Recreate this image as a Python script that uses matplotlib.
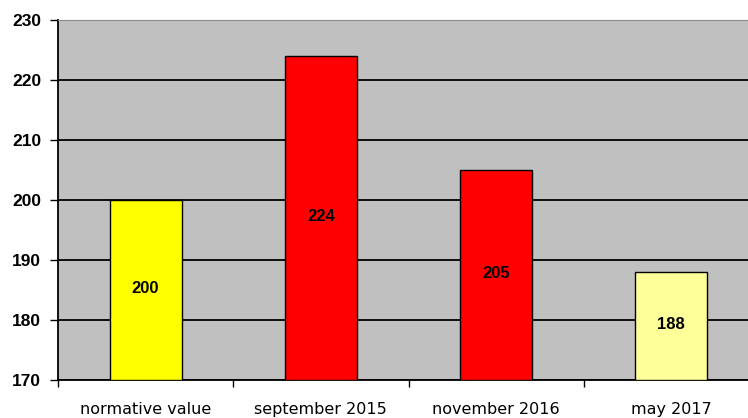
import matplotlib.pyplot as plt
import numpy as np

# Values per measurement
categories = ['normative value', 'september 2015', 'november 2016', 'may 2017']
values = [200, 224, 205, 188]
bar_colors = ['#ffff00', '#ff0000', '#ff0000', '#ffff99']

y_min, y_max = 170, 230

fig = plt.figure(figsize=(7.48, 4.18), dpi=100)
fig.patch.set_facecolor('white')
ax = fig.add_axes([58 / 748, 38 / 418, 701 / 748, 360 / 418])
ax.set_facecolor('#c0c0c0')

x = np.arange(len(categories))
bars = ax.bar(x, [v - y_min for v in values], bottom=y_min, width=0.41,
              color=bar_colors, edgecolor='black', linewidth=1.0, zorder=3)

# value labels in the middle of each bar
for xi, v in zip(x, values):
    ax.text(xi, (y_min + v) / 2 + 0.3, str(v), ha='center', va='center',
            fontsize=12, fontweight='bold', family='Liberation Sans', zorder=4)

ax.set_xlim(-0.5, len(categories) - 0.5)
ax.set_ylim(y_min, y_max)

# y axis
ax.set_yticks(range(y_min, y_max + 1, 10))
ax.tick_params(axis='y', direction='out', length=6, width=1, pad=6,
               labelsize=12.5, colors='black')
for lbl in ax.get_yticklabels():
    lbl.set_fontweight('bold')
    lbl.set_family('Liberation Sans')
ax.yaxis.grid(True, color='black', linewidth=1.3, zorder=1)
ax.set_axisbelow(True)

# x axis: ticks between categories, labels under the centres
ax.set_xticks(np.arange(-0.5, len(categories) - 0.5, 1.0))
ax.set_xticklabels([])
ax.tick_params(axis='x', which='major', direction='out', length=5, width=1)
ax.set_xticks(x, minor=True)
ax.set_xticklabels(categories, minor=True, fontsize=11.5, family='DejaVu Sans')
ax.tick_params(axis='x', which='minor', length=0, pad=16)

ax.spines['left'].set_linewidth(1.3)
ax.spines['bottom'].set_linewidth(1.3)
ax.spines['top'].set_color('#8c8c8c')
ax.spines['right'].set_visible(False)

fig.savefig('out.png', dpi=100)
